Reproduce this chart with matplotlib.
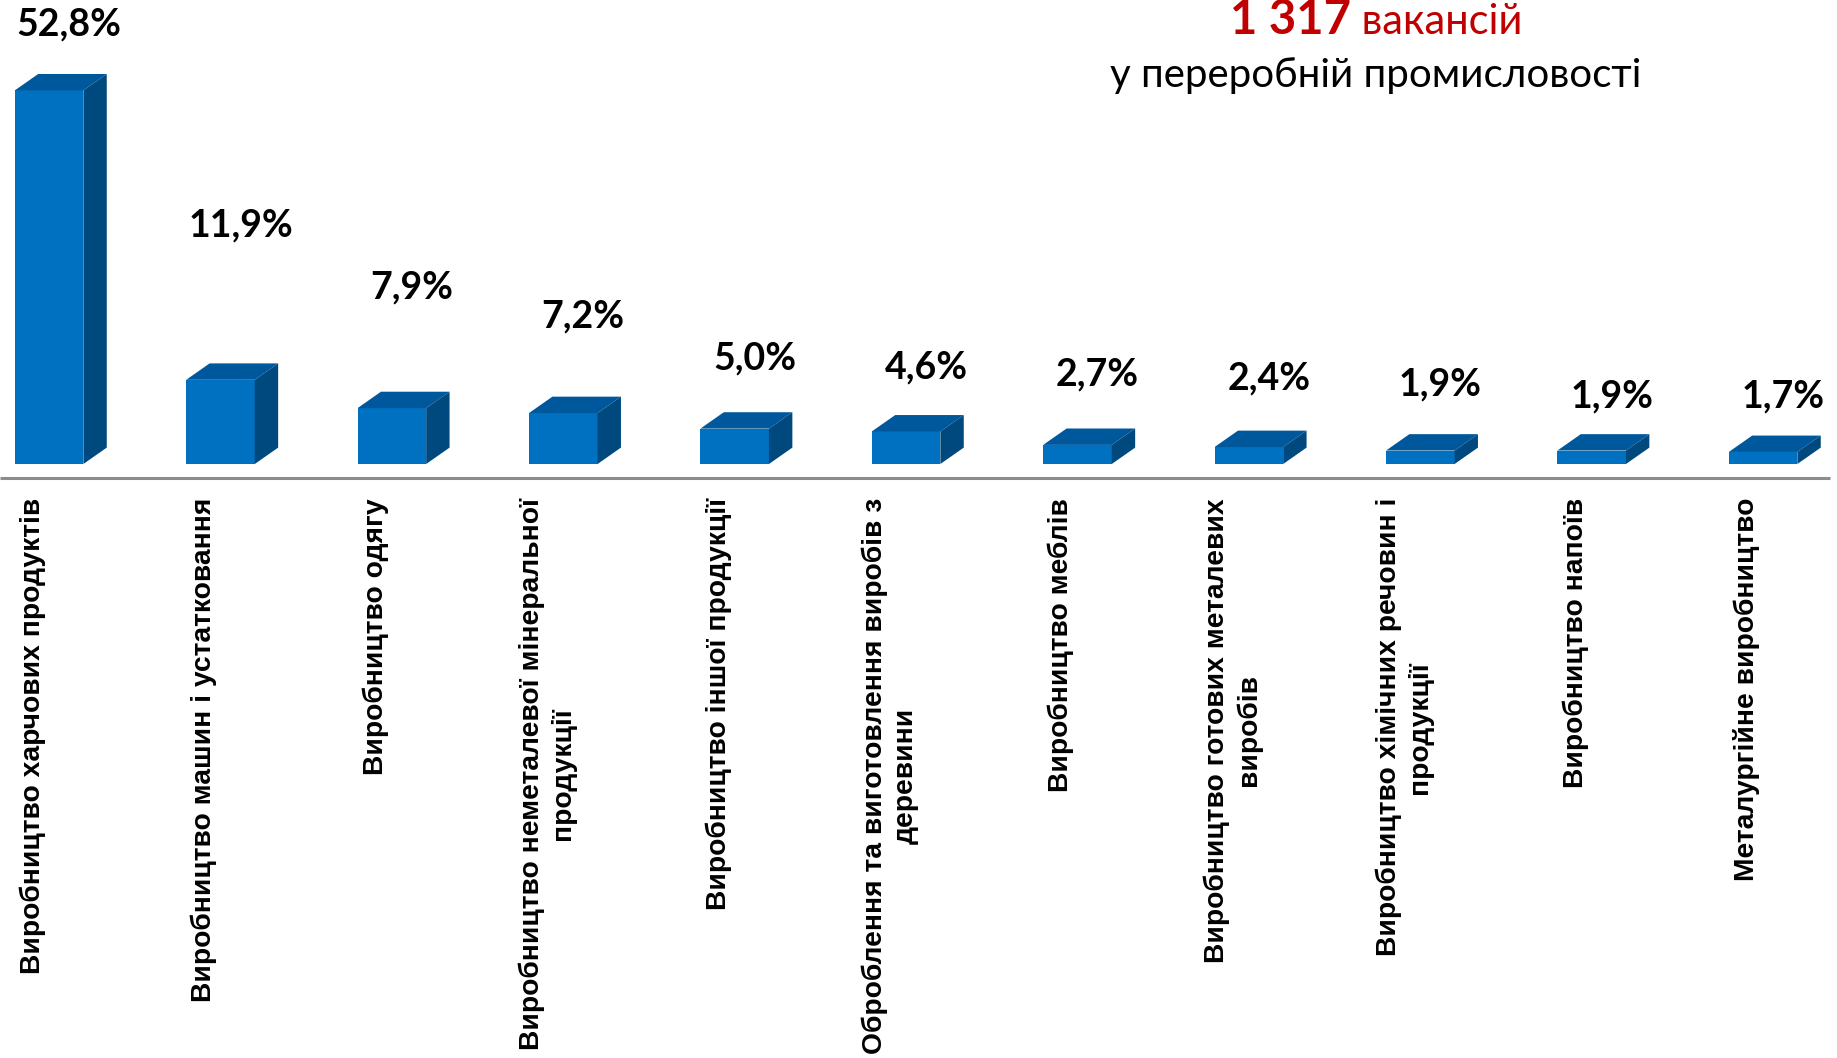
import matplotlib
matplotlib.use("Agg")
import matplotlib.pyplot as plt
from matplotlib.offsetbox import TextArea, HPacker, AnnotationBbox

categories = [
    "Виробництво харчових продуктів",
    "Виробництво машин і устатковання",
    "Виробництво одягу",
    "Виробництво неметалевої мінеральної\nпродукції",
    "Виробництво іншої продукції",
    "Оброблення та виготовлення виробів з\nдеревини",
    "Виробництво меблів",
    "Виробництво готових металевих\nвиробів",
    "Виробництво хімічних речовин і\nпродукції",
    "Виробництво напоїв",
    "Металургійне виробництво",
]
values = [52.8, 11.9, 7.9, 7.2, 5.0, 4.6, 2.7, 2.4, 1.9, 1.9, 1.7]
value_labels = ["52,8%", "11,9%", "7,9%", "7,2%", "5,0%", "4,6%", "2,7%", "2,4%", "1,9%", "1,9%", "1,7%"]
total_text = "1 317"

# layout: extra lift (px) of each value label above the bar top
label_lift = [50, 138, 104, 80, 54, 48, 54, 52, 50, 38, 39]

W, H = 1837, 1058
fig = plt.figure(figsize=(W / 100, H / 100), dpi=100)
ax = fig.add_axes([0, 0, 1, 1])
ax.axis("off")

px_x = 171.4        # px per category
px_y = 7.076        # px per percent
x0px = 32.8         # px of category 0 centre
base_px = 464       # px from top of bar base
ax.set_xlim(-x0px / px_x, (W - x0px) / px_x)
ax.set_ylim((base_px - H) / px_y, base_px / px_y)

front_c = "#0070C0"
top_c = "#00589C"
side_c = "#00497F"
dx = 23.4 / px_x
dy = 16.4 / px_y
bw = 0.40
off = -0.105

for i, v in enumerate(values):
    a = i + off
    b = a + bw
    ax.fill([a, b, b, a], [0, 0, v, v], color=front_c, lw=0, zorder=3)
    ax.fill([a, b, b + dx, a + dx], [v, v, v + dy, v + dy], color=top_c, lw=0, zorder=3)
    ax.fill([b, b + dx, b + dx, b], [0, dy, v + dy, v], color=side_c, lw=0, zorder=3)
    ax.text(a + bw / 2 + 20 / px_x, v + dy + label_lift[i] / px_y, value_labels[i],
            ha="center", va="center", fontsize=27, fontweight="bold",
            family=["Lato", "DejaVu Sans"], color="black")
    ax.text(i, -34 / px_y, categories[i], rotation=90, ha="center", va="top",
            multialignment="center", fontsize=20.3, fontweight="bold",
            family=["Liberation Sans Narrow", "Liberation Sans", "DejaVu Sans"],
            linespacing=1.25, color="black")

# axis line
ax.plot([-x0px / px_x, (1830 - x0px) / px_x], [-14 / px_y] * 2, color="#8C8C8C",
        lw=2.2, solid_capstyle="butt", zorder=2)

# title
tx = (1376 - x0px) / px_x
ta1 = TextArea(total_text, textprops=dict(color="#C00000", fontsize=34, fontweight="bold",
                                           family=["Lato", "DejaVu Sans"]))
ta2 = TextArea(" вакансій", textprops=dict(color="#C00000", fontsize=30,
                                            family=["Lato", "DejaVu Sans"]))
hp = HPacker(children=[ta1, ta2], align="baseline", pad=0, sep=0)
ab = AnnotationBbox(hp, (tx, (base_px - 20) / px_y), frameon=False, box_alignment=(0.5, 0.5))
ax.add_artist(ab)
ax.text(tx, (base_px - 76) / px_y, "у переробній промисловості", ha="center", va="center",
        fontsize=29, family=["Lato", "DejaVu Sans"], color="black")

fig.savefig("out.png", dpi=100, facecolor="white")
